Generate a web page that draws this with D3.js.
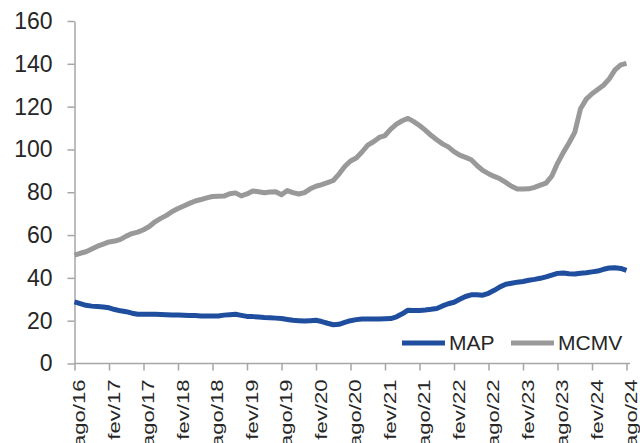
<!DOCTYPE html>
<html><head><meta charset="utf-8">
<script src="https://cdn.jsdelivr.net/npm/d3@7"></script>
<style>html,body{margin:0;padding:0;background:#fff;}svg{display:block;}</style>
</head><body><svg id="c" width="640" height="443"></svg>
<script>
const tickLabels = ["ago/16","fev/17","ago/17","fev/18","ago/18","fev/19","ago/19","fev/20","ago/20","fev/21","ago/21","fev/22","ago/22","fev/23","ago/23","fev/24","ago/24"];
const yTicks = [0,20,40,60,80,100,120,140,160];
const seriesNames = ["MAP","MCMV"];
const mapValues = [28.8,28.0,27.2,26.8,26.6,26.4,26.0,25.2,24.6,24.2,23.5,23.0,23.0,23.0,23.0,22.9,22.8,22.7,22.6,22.5,22.4,22.4,22.2,22.2,22.2,22.2,22.6,22.8,23.0,22.5,22.0,21.9,21.7,21.5,21.4,21.2,21.0,20.6,20.2,20.0,19.8,20.0,20.2,19.6,18.8,18.1,18.3,19.2,20.0,20.5,20.8,20.8,20.8,20.8,20.9,21.0,21.8,23.2,24.9,24.8,24.8,25.0,25.3,25.7,26.9,27.9,28.6,30.0,31.3,32.1,32.1,31.9,32.8,34.2,35.8,37.0,37.5,38.0,38.3,38.9,39.3,39.8,40.5,41.3,42.1,42.3,41.9,41.8,42.2,42.4,42.8,43.2,44.0,44.6,44.7,44.4,43.5];
const mcmvValues = [50.6,51.5,52.2,53.5,54.8,55.8,56.8,57.2,58.0,59.5,60.7,61.4,62.5,64.0,66.2,67.8,69.2,71.0,72.4,73.6,74.8,75.9,76.6,77.4,78.0,78.1,78.2,79.3,79.7,78.3,79.2,80.6,80.2,79.8,80.1,80.2,78.8,80.8,79.8,79.2,79.8,81.6,82.8,83.6,84.5,85.5,88.5,92.0,94.6,96.0,98.8,102.0,103.6,105.6,106.5,109.5,111.8,113.4,114.5,113.0,111.2,109.0,106.6,104.5,102.6,101.2,99.0,97.3,96.3,95.2,92.5,90.2,88.7,87.4,86.3,84.6,82.8,81.5,81.5,81.6,82.3,83.3,84.3,87.5,93.5,98.5,103.0,108.0,119.0,123.5,126.0,128.0,130.0,133.0,137.2,139.5,140.2];

const colors = {MAP:"#1f4e9e", MCMV:"#999999"};
const axisColor = "#a6a6a6";
const textColor = "#262626";
const font = "'Liberation Sans', Arial, sans-serif";

const svg = d3.select("#c");
const n = mapValues.length;
const x = d3.scaleLinear().domain([0, n-1]).range([74.5, 626.5]);
const y = d3.scaleLinear().domain([0, 160]).range([363.5, 21]);

// y axis
const yAxis = d3.axisLeft(y).tickValues(yTicks).tickSize(7).tickPadding(15).tickSizeOuter(0);
const gy = svg.append("g").attr("transform", `translate(${x(0)},0)`).call(yAxis);
gy.select(".domain").attr("stroke", axisColor).attr("stroke-width", 1.5);
gy.selectAll(".tick line").attr("stroke", axisColor).attr("stroke-width", 1.5);
gy.selectAll(".tick text").attr("fill", textColor).style("font-family", font).style("font-size", "23px");

// x axis
const tickIdx = tickLabels.map((d,i)=>i*6);
const xAxis = d3.axisBottom(x).tickValues(tickIdx).tickFormat((d,i)=>tickLabels[i]).tickSize(7).tickSizeOuter(0);
const gx = svg.append("g").attr("transform", `translate(0,${y(0)})`).call(xAxis);
gx.select(".domain").attr("stroke", axisColor).attr("stroke-width", 1.5).attr("d", `M${x(0)},0H630`);
gx.selectAll(".tick line").attr("stroke", axisColor).attr("stroke-width", 1.5);
gx.selectAll(".tick text")
  .attr("fill", textColor).style("font-family", font).style("font-size", "17px")
  .attr("text-anchor", "end").attr("dy", null).attr("y", 0).attr("x", 0)
  .attr("transform", "translate(10,16) rotate(-90) scale(1.3,1)");

// lines
const line = d3.line().x((d,i)=>x(i)).y(d=>y(d));
[["MCMV", mcmvValues],["MAP", mapValues]].forEach(([name, vals])=>{
  svg.append("path").datum(vals).attr("d", line)
    .attr("fill","none").attr("stroke", colors[name]).attr("stroke-width", 5)
    .attr("stroke-linejoin","round").attr("stroke-linecap","butt");
});

// legend
const legX = [402, 511];
seriesNames.forEach((name, i)=>{
  const g = svg.append("g").attr("transform", `translate(${legX[i]},343)`);
  g.append("line").attr("x1",0).attr("x2",43).attr("y1",0).attr("y2",0)
    .attr("stroke", colors[name]).attr("stroke-width",5);
  g.append("text").attr("x",47).attr("y",6.5).text(name)
    .attr("fill", textColor).style("font-family", font).style("font-size","21px");
});
</script></body></html>
